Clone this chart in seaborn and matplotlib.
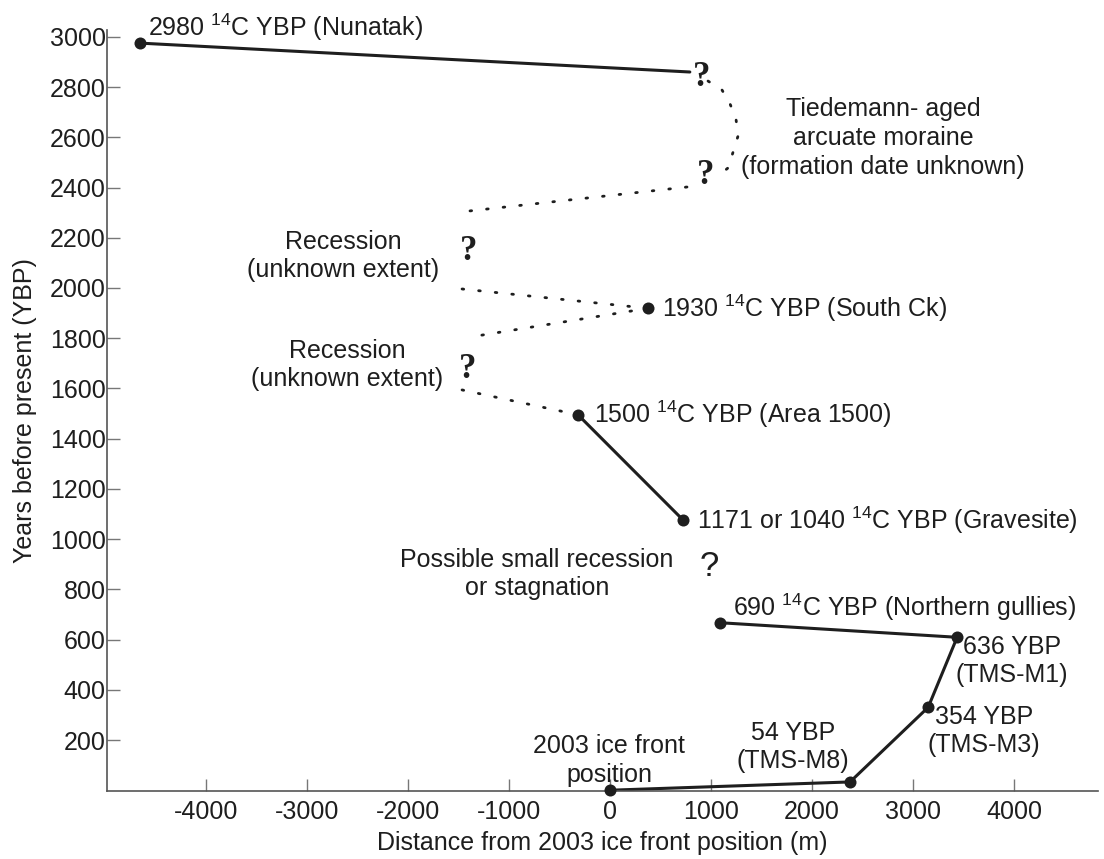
import matplotlib
matplotlib.use("Agg")
import matplotlib.pyplot as plt
import seaborn as sns
import pandas as pd

# ---------------- data ----------------
# dated ice-front positions (distance m, years before present)
site_names = ["Nunatak", "South Ck", "Area 1500", "Gravesite",
              "Northern gullies", "TMS-M1", "TMS-M3", "TMS-M8", "2003 ice front"]
site_x = [-4650, 376, -317, 723, 1089, 3436, 3149, 2376, 0]
site_y = [2975, 1919, 1495, 1076, 667, 609, 330, 33, 0]

# solid (dated) segments
solid_nunatak_x = [-4650, 790]
solid_nunatak_y = [2975, 2860]
solid_area_x = [-317, 723]
solid_area_y = [1495, 1076]
solid_recent_x = [1089, 3436, 3149, 2376, 0]
solid_recent_y = [667, 609, 330, 33, 0]

# dotted (uncertain) segments
moraine_arc_x = [970, 1109, 1188, 1247, 1267, 1218, 1168, 1049]
moraine_arc_y = [2824, 2788, 2733, 2673, 2605, 2541, 2478, 2439]
recess1_x = [762, -1406]
recess1_y = [2402, 2306]
advance1_x = [-1465, 376]
advance1_y = [1996, 1919]
recess2_x = [376, -1396]
recess2_y = [1919, 1804]
advance2_x = [-1465, -317]
advance2_y = [1594, 1495]

# question marks
qmark_x = [911, 950, -1396, -1406, 980]
qmark_y = [2840, 2446, 2147, 1677, 889]

x_ticks = [-4000, -3000, -2000, -1000, 0, 1000, 2000, 3000, 4000]
y_ticks = [200, 400, 600, 800, 1000, 1200, 1400, 1600, 1800, 2000,
           2200, 2400, 2600, 2800, 3000]

C14 = r"$^{\mathregular{14}}$C"
labels = [
    ("2980 " + C14 + " YBP (Nunatak)", -4574, 3039, "left"),
    ("Tiedemann- aged\narcuate moraine\n(formation date unknown)", 2703, 2597, "center"),
    ("Recession\n(unknown extent)", -2643, 2127, "center"),
    ("Recession\n(unknown extent)", -2604, 1693, "center"),
    ("1930 " + C14 + " YBP (South Ck)", 515, 1920, "left"),
    ("1500 " + C14 + " YBP (Area 1500)", -158, 1498, "left"),
    ("1171 or 1040 " + C14 + " YBP (Gravesite)", 861, 1076, "left"),
    ("Possible small recession\nor stagnation", -723, 861, "center"),
    ("690 " + C14 + " YBP (Northern gullies)", 1218, 729, "left"),
    ("636 YBP\n(TMS-M1)", 3980, 515, "center"),
    ("354 YBP\n(TMS-M3)", 3703, 236, "center"),
    ("54 YBP\n(TMS-M8)", 1812, 172, "center"),
    ("2003 ice front\nposition", -10, 117, "center"),
]

# ---------------- style ----------------
sns.set_theme(style="ticks")
plt.rcParams["font.family"] = ["Liberation Sans", "DejaVu Sans"]
plt.rcParams["mathtext.fontset"] = "custom"
plt.rcParams["mathtext.rm"] = "Liberation Sans"
plt.rcParams["mathtext.it"] = "Liberation Sans"

INK = "#1e1e1e"
FS = 18

fig = plt.figure(figsize=(11.04, 8.59), dpi=100)
ax = fig.add_axes([0.0969, 0.0786, 0.8977, 0.8864])

def solid(xs, ys):
    df = pd.DataFrame({"x": xs, "y": ys})
    sns.lineplot(data=df, x="x", y="y", ax=ax, sort=False, estimator=None,
                 color=INK, linewidth=2.2)

def dotted(xs, ys):
    df = pd.DataFrame({"x": xs, "y": ys})
    sns.lineplot(data=df, x="x", y="y", ax=ax, sort=False, estimator=None,
                 color=INK, linewidth=2.0, linestyle=(0, (0.6, 5.4)),
                 dash_capstyle="round")

solid(solid_nunatak_x, solid_nunatak_y)
solid(solid_area_x, solid_area_y)
solid(solid_recent_x, solid_recent_y)
for xs, ys in [(moraine_arc_x, moraine_arc_y), (recess1_x, recess1_y),
               (advance1_x, advance1_y), (recess2_x, recess2_y),
               (advance2_x, advance2_y)]:
    dotted(xs, ys)

sites = pd.DataFrame({"x": site_x, "y": site_y, "name": site_names})
sns.scatterplot(data=sites, x="x", y="y", ax=ax, color=INK, s=75,
                edgecolor=INK, linewidth=0, zorder=5, clip_on=False)

for i, (qx, qy) in enumerate(zip(qmark_x, qmark_y)):
    if i < 4:
        ax.text(qx, qy, "?", ha="center", va="center", fontsize=25,
                fontweight="bold", family=["Liberation Serif", "DejaVu Serif"],
                color=INK)
    else:
        ax.text(qx, qy, "?", ha="center", va="center", fontsize=25,
                family=["Liberation Sans", "DejaVu Sans"], color=INK)

for txt, tx, ty, ha in labels:
    ax.text(tx, ty, txt, ha=ha, va="center", fontsize=FS, color=INK,
            multialignment="center", linespacing=1.25, clip_on=False)

ax.set_xlim(-4980, 4831)
ax.set_ylim(-5, 3027)
ax.set_xticks(x_ticks)
ax.set_xticklabels([str(v) for v in x_ticks])
ax.set_yticks(y_ticks)
ax.set_yticklabels([str(v) for v in y_ticks])
ax.tick_params(axis="both", direction="in", length=9, width=1.0,
               color="#777777", labelsize=FS, labelcolor=INK)
ax.tick_params(axis="x", pad=6)
ax.tick_params(axis="y", pad=1)
sns.despine(ax=ax, top=True, right=True)
for s in ["left", "bottom"]:
    ax.spines[s].set_color("#555555")
    ax.spines[s].set_linewidth(1.2)

ax.set_xlabel("Distance from 2003 ice front position (m)", fontsize=FS,
              color=INK, labelpad=5)
ax.set_ylabel("Years before present (YBP)", fontsize=FS, color=INK, labelpad=9)

fig.savefig("out.png", dpi=100, facecolor="white")
